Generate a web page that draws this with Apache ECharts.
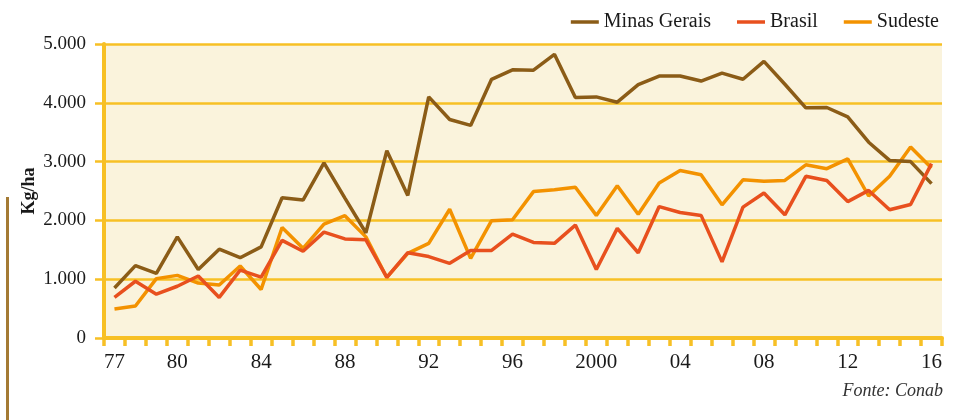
<!DOCTYPE html>
<html>
<head>
<meta charset="utf-8">
<script src="https://cdn.jsdelivr.net/npm/echarts@6/dist/echarts.min.js"></script>
<style>
  html, body { margin: 0; padding: 0; background: #ffffff; }
  #chart { width: 974px; height: 420px; }
</style>
</head>
<body>
<div id="chart"></div>
<script>
// anos (safras)
var years = ['1977','1978','1979','1980','1981','1982','1983','1984','1985','1986',
             '1987','1988','1989','1990','1991','1992','1993','1994','1995','1996',
             '1997','1998','1999','2000','2001','2002','2003','2004','2005','2006',
             '2007','2008','2009','2010','2011','2012','2013','2014','2015','2016'];
// rótulos do eixo x
var labelYears = ['1977','1980','1984','1988','1992','1996','2000','2004','2008','2012','2016'];
var labelText  = ['77','80','84','88','92','96','2000','04','08','12','16'];

// produtividade (kg/ha)
var minasGerais = [850, 1230, 1100, 1720, 1165, 1510, 1365, 1550, 2385, 2345,
                   2980, 2380, 1790, 3185, 2425, 4100, 3715, 3615, 4400, 4560,
                   4555, 4825, 4090, 4100, 4010, 4310, 4455, 4455, 4370, 4505,
                   4400, 4705, 4315, 3915, 3920, 3760, 3330, 3020, 3000, 2625];
var brasil = [690, 965, 745, 880, 1055, 690, 1155, 1035, 1660, 1475,
              1800, 1685, 1670, 1030, 1450, 1385, 1270, 1490, 1490, 1765,
              1625, 1610, 1920, 1165, 1865, 1450, 2235, 2135, 2085, 1295,
              2225, 2465, 2095, 2750, 2680, 2320, 2510, 2180, 2270, 2965];
var sudeste = [495, 545, 1010, 1065, 935, 900, 1225, 825, 1880, 1525,
               1935, 2080, 1720, 1030, 1440, 1610, 2190, 1355, 1995, 2010,
               2490, 2520, 2565, 2085, 2590, 2105, 2635, 2850, 2775, 2265,
               2690, 2665, 2680, 2945, 2880, 3045, 2415, 2750, 3250, 2890];

var yellow = '#f7c025';
var serif = '"Liberation Serif", serif';

var dom = document.getElementById('chart');
var myChart = echarts.init(dom, null, { renderer: 'canvas' });
var option = {
    animation: false,
    backgroundColor: '#ffffff',
    legend: {
        data: ['Minas Gerais', 'Brasil', 'Sudeste'],
        right: 30,
        top: 7,
        icon: 'rect',
        itemWidth: 28,
        itemHeight: 3.5,
        itemGap: 26,
        textStyle: { fontFamily: serif, fontSize: 20, color: '#1a1a1a' }
    },
    grid: {
        left: 104,
        right: 32,
        top: 44,
        bottom: 82,
        show: true,
        backgroundColor: '#faf3dc',
        borderWidth: 0
    },
    xAxis: {
        type: 'category',
        boundaryGap: true,
        data: years,
        axisLine: { lineStyle: { color: yellow, width: 4 } },
        axisTick: {
            show: true,
            interval: 0,
            length: 8,
            lineStyle: { color: yellow, width: 3.5 }
        },
        axisLabel: {
            interval: function (index, value) {
                return labelYears.indexOf(value) >= 0;
            },
            formatter: function (value) {
                var i = labelYears.indexOf(value);
                return i >= 0 ? labelText[i] : '';
            },
            margin: 14,
            fontFamily: serif,
            fontSize: 21,
            color: '#1a1a1a'
        },
        splitLine: { show: false }
    },
    yAxis: {
        type: 'value',
        min: 0,
        max: 5000,
        interval: 1000,
        name: 'Kg/ha',
        nameLocation: 'middle',
        nameRotate: 90,
        nameGap: 66,
        nameMoveOverlap: false,
        nameTextStyle: { fontFamily: serif, fontSize: 18, fontWeight: 'bold', color: '#1a1a1a' },
        axisLine: { show: true, lineStyle: { color: yellow, width: 4 } },
        axisTick: { show: true, length: 9, lineStyle: { color: yellow, width: 2.5 } },
        axisLabel: {
            margin: 18,
            fontFamily: serif,
            fontSize: 19,
            color: '#1a1a1a',
            formatter: function (v) {
                return v >= 1000 ? (v / 1000) + '.000' : String(v);
            }
        },
        splitLine: { show: true, lineStyle: { color: yellow, width: 2.5 } }
    },
    graphic: [
        {
            type: 'line',
            shape: { x1: 7.5, y1: 197, x2: 7.5, y2: 420 },
            style: { stroke: '#a47a34', lineWidth: 3 }
        },
        {
            type: 'text',
            right: 31,
            top: 382,
            style: {
                text: 'Fonte: Conab',
                font: 'italic 18px "Liberation Serif", serif',
                fill: '#333333'
            }
        }
    ],
    series: [
        {
            name: 'Sudeste',
            type: 'line',
            data: sudeste,
            symbol: 'none',
            color: '#f39200',
            lineStyle: { color: '#f39200', width: 3.5 }
        },
        {
            name: 'Minas Gerais',
            type: 'line',
            data: minasGerais,
            symbol: 'none',
            color: '#8b5c17',
            lineStyle: { color: '#8b5c17', width: 3.5 }
        },
        {
            name: 'Brasil',
            type: 'line',
            data: brasil,
            symbol: 'none',
            color: '#e8501e',
            lineStyle: { color: '#e8501e', width: 3.5 }
        }
    ]
};
if (option && typeof option === "object") {
    myChart.setOption(option, true);
}
</script>
</body>
</html>
